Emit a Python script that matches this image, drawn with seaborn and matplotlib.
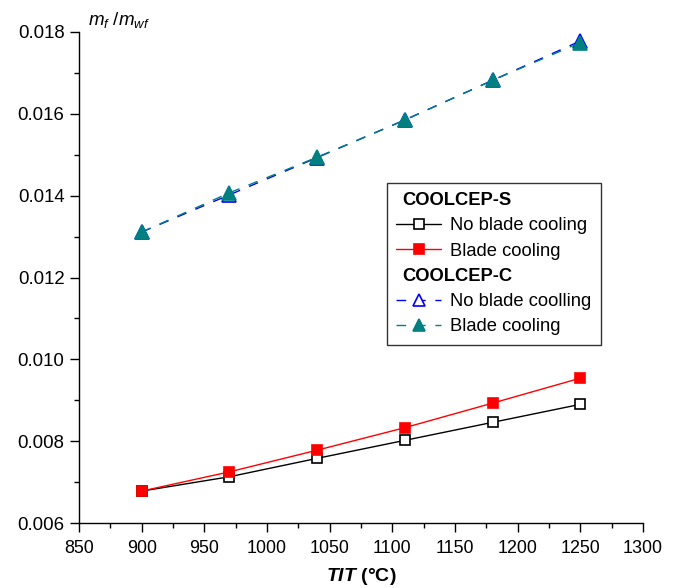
import numpy as np
import pandas as pd
import seaborn as sns
import matplotlib
matplotlib.use("Agg")
import matplotlib.pyplot as plt
from matplotlib.lines import Line2D
from matplotlib.ticker import MultipleLocator, FormatStrFormatter

sns.set_theme(style="ticks")
plt.rcParams["font.family"] = ["Liberation Sans", "DejaVu Sans"]
plt.rcParams["mathtext.fontset"] = "custom"
plt.rcParams["mathtext.it"] = "Liberation Sans:italic"
plt.rcParams["mathtext.rm"] = "Liberation Sans"
plt.rcParams["mathtext.bf"] = "Liberation Sans:bold"
plt.rcParams["mathtext.bfit"] = "Liberation Sans:italic:bold"
for key in ["text.color", "axes.labelcolor", "xtick.color", "ytick.color",
            "xtick.labelcolor", "ytick.labelcolor", "legend.labelcolor"]:
    plt.rcParams[key] = "black"

# Turbine inlet temperature (°C)
tit = [900, 970, 1040, 1110, 1180, 1250]

# Fuel to working-fluid mass ratio
s_no_cooling = [0.00678, 0.00713, 0.00758, 0.00802, 0.00846, 0.00890]
s_cooling = [0.00678, 0.00725, 0.00778, 0.00833, 0.00893, 0.00954]
c_no_cooling = [0.01311, 0.01402, 0.01493, 0.01585, 0.01682, 0.01778]
c_cooling = [0.01311, 0.01407, 0.01494, 0.01585, 0.01682, 0.01774]

series_labels = ["No blade cooling", "Blade cooling", "No blade coolling", "Blade cooling"]

df = pd.concat([
    pd.DataFrame({"TIT": tit, "ratio": s_no_cooling, "series": "S-none"}),
    pd.DataFrame({"TIT": tit, "ratio": s_cooling, "series": "S-cool"}),
    pd.DataFrame({"TIT": tit, "ratio": c_no_cooling, "series": "C-none"}),
    pd.DataFrame({"TIT": tit, "ratio": c_cooling, "series": "C-cool"}),
])

fig = plt.figure(figsize=(6.77, 5.88), dpi=100)
ax = fig.add_axes([79 / 677, 1 - 523 / 588, 564 / 677, 491 / 588])

styles = {
    "S-none": dict(color="black", marker="s", mfc="white", mec="black", ms=7.6, dashes=None),
    "S-cool": dict(color="red", marker="s", mfc="red", mec="red", ms=7.6, dashes=None),
    "C-none": dict(color="#0000ff", marker="^", mfc="white", mec="#0000ff", ms=10, dashes=(7, 7)),
    "C-cool": dict(color="#008080", marker="^", mfc="#008080", mec="#008080", ms=10, dashes=(7, 7)),
}

handles = []
for key in ["S-none", "S-cool", "C-none", "C-cool"]:
    st = styles[key]
    sub = df[df["series"] == key]
    sns.lineplot(data=sub, x="TIT", y="ratio", ax=ax, color=st["color"], lw=1.0,
                 marker=st["marker"], markersize=st["ms"], markerfacecolor=st["mfc"],
                 markeredgecolor=st["mec"], markeredgewidth=1.2, legend=False)
    line = ax.lines[-1]
    if st["dashes"] is not None:
        line.set_dashes(st["dashes"])
    h = Line2D([], [], color=st["color"], lw=1.0, marker=st["marker"], markersize=st["ms"] * 0.88,
               markerfacecolor=st["mfc"], markeredgecolor=st["mec"], markeredgewidth=1.2)
    if st["dashes"] is not None:
        h.set_dashes(st["dashes"])
    handles.append(h)

ax.set_xlim(850, 1300)
ax.set_ylim(0.006, 0.018)
ax.xaxis.set_major_locator(MultipleLocator(50))
ax.xaxis.set_minor_locator(MultipleLocator(25))
ax.yaxis.set_major_locator(MultipleLocator(0.002))
ax.yaxis.set_minor_locator(MultipleLocator(0.001))
ax.yaxis.set_major_formatter(FormatStrFormatter("%.3f"))
ax.tick_params(which="major", direction="out", length=6.5, width=1, color="black")
ax.tick_params(which="minor", direction="out", length=3.3, width=1, color="black")
ax.tick_params(axis="x", which="major", labelsize=12.9, pad=5.5, labelcolor="black")
ax.tick_params(axis="y", which="major", labelsize=13.4, pad=4, labelcolor="black")
for sp in ["top", "right"]:
    ax.spines[sp].set_visible(False)
for sp in ["left", "bottom"]:
    ax.spines[sp].set_color("black")
    ax.spines[sp].set_linewidth(1.0)
ax.set_xlabel(r"$\mathbfit{TIT}$ (°C)", fontsize=14, fontweight="bold", color="black")
ax.xaxis.set_label_coords(0.5, -0.088)
ax.set_ylabel("")
fig.text(88 / 677, 1 - 25.5 / 588, r"$m_f$ /$m_{wf}$", fontsize=13.5, ha="left",
         va="baseline", color="black")

blank = Line2D([], [], lw=0, marker=None)
leg_handles = [blank, handles[0], handles[1], blank, handles[2], handles[3]]
leg_labels = ["COOLCEP-S", series_labels[0], series_labels[1],
              "COOLCEP-C", series_labels[2], series_labels[3]]
leg = ax.legend(leg_handles, leg_labels, loc="upper left", bbox_to_anchor=(0.546, 0.6925),
                borderaxespad=0, frameon=True, fancybox=False, shadow=False,
                fontsize=13.2, handlelength=2.45, handletextpad=0.5, labelspacing=0.45,
                borderpad=0.5, labelcolor="black")
leg.get_frame().set_edgecolor("black")
leg.get_frame().set_linewidth(1.0)
for i in (0, 3):
    t = leg.get_texts()[i]
    t.set_fontweight("bold")
    t.set_position((-48, 0))

fig.savefig("out.png", dpi=100)
